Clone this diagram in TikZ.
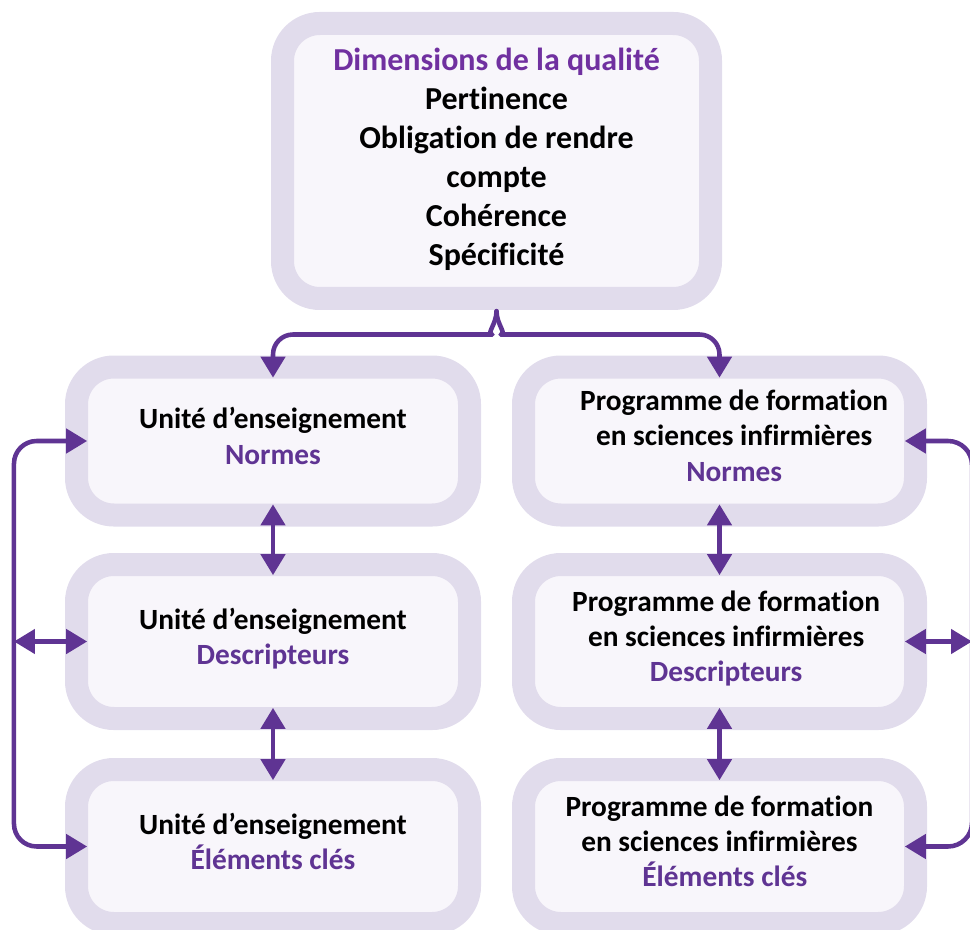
\documentclass[tikz,border=0pt]{standalone}
\usepackage{fontspec}
\setmainfont{Carlito}[Ligatures=NoCommon]
\usetikzlibrary{arrows.meta}

\definecolor{halo}{HTML}{E1DCEC}
\definecolor{pale}{HTML}{F8F6FB}
\definecolor{arrowpurple}{HTML}{5F3493}
\definecolor{titlepurple}{HTML}{7030A0}
\newcommand{\hl}[1]{\textcolor{arrowpurple}{#1}}

\tikzset{
  box/.style={draw=halo, fill=pale, line width=17.25pt, rounded corners=28pt,
    outer sep=0pt, inner sep=0pt, align=center, text depth=8pt,
    font=\fontsize{22}{26.5}\selectfont\bfseries},
  ue/.style={box, minimum width=294.75pt, minimum height=115.5pt},
  pf/.style={box, minimum width=294pt, minimum height=115.5pt},
  conn/.style={draw=arrowpurple, line width=3.4pt, line join=round, -{Triangle[length=15.75pt,width=18pt]}, shorten >=-8pt},
  dconn/.style={conn, {Triangle[length=15.75pt,width=18pt]}-{Triangle[length=15.75pt,width=18pt]}, shorten <=-8pt}
}

\begin{document}
\begin{tikzpicture}[x=0.75pt,y=0.75pt]
\useasboundingbox (0,0) rectangle (970,-930);
\clip (0,0) rectangle (970,-930);

\node[box, minimum width=321pt, minimum height=206.25pt, text depth=6pt,
  font=\fontsize{24}{29.25}\selectfont\bfseries] (top) at (496.5,-161)
  {\textcolor{titlepurple}{Dimensions de la qualité}\\Pertinence\\Obligation de rendre\\compte\\Cohérence\\Spécificité};

\node[ue, minimum height=111pt] (ue1) at (273,-441) {Unité d’enseignement\\\hl{Normes}};
\node[ue] (ue2) at (273,-641.5) {Unité d’enseignement\\\hl{Descripteurs}};
\node[ue] (ue3) at (273,-846.5) {Unité d’enseignement\\\hl{Éléments clés}};

\node[pf, minimum height=111pt] (pf1) at (719.5,-441) {\hspace*{22pt}Programme de formation\\\hspace*{22pt}en sciences infirmières\\\hspace*{22pt}\hl{Normes}};
\node[pf] (pf2) at (719.5,-641.5) {\hspace*{10pt}Programme de formation\\\hspace*{10pt}en sciences infirmières\\\hspace*{10pt}\hl{Descripteurs}};
\node[pf] (pf3) at (719.5,-846.5) {Programme de formation\\en sciences infirmières\\\hspace*{8pt}\hl{Éléments clés}};

\coordinate (peak) at ([yshift=-9.5pt]top.south);
\draw[conn, line cap=round, rounded corners=15pt] (peak) to[out=-90,in=0] ([xshift=-18pt,yshift=-17.5pt]peak) -| (ue1.north);
\draw[conn, line cap=round, rounded corners=15pt] (peak) to[out=-90,in=180] ([xshift=18pt,yshift=-17.5pt]peak) -| (pf1.north);

\draw[dconn] (ue1.south) -- (ue2.north);
\draw[dconn] (ue2.south) -- (ue3.north);
\draw[dconn] (pf1.south) -- (pf2.north);
\draw[dconn] (pf2.south) -- (pf3.north);

\coordinate (lbus) at ([xshift=-46.9pt]ue2.west);
\draw[dconn, rounded corners=17pt] (ue3.west) -| (lbus) |- (ue1.west);
\draw[dconn, shorten <=0pt] (lbus) -- (ue2.west);

\coordinate (rbus) at ([xshift=42.4pt]pf2.east);
\draw[dconn, rounded corners=18pt] (pf3.east) -| (rbus) |- (pf1.east);
\draw[dconn, shorten >=0pt] (pf2.east) -- (rbus);
\end{tikzpicture}
\end{document}
